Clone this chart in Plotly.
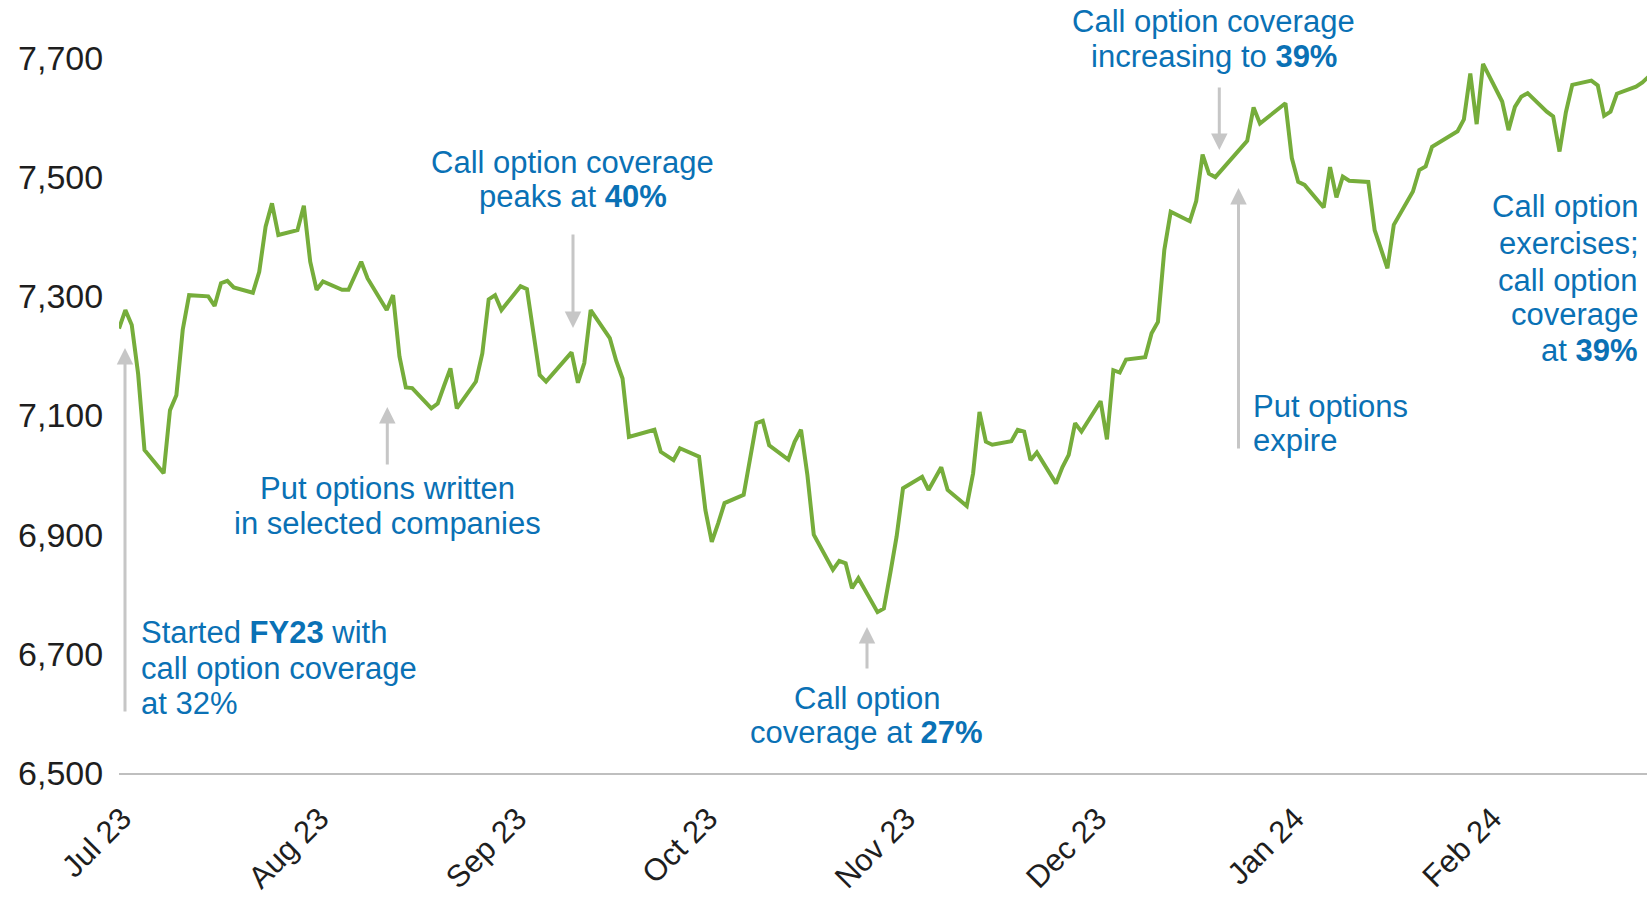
import pandas as pd
import plotly.graph_objects as go
from datetime import timedelta

# ---------------- data (S&P/ASX 200 daily close) ----------------
start_date = "2023-07-03"
end_date = "2024-02-28"
market_holidays = ["2023-12-25", "2023-12-26", "2024-01-01", "2024-01-26"]

jul_23 = [7246, 7277, 7252, 7170, 7042, 7003, 7109, 7134, 7244, 7302, 7300,
          7284, 7322, 7326, 7315, 7306, 7341, 7417, 7456, 7403, 7411]
aug_23 = [7452, 7358, 7311, 7325, 7311, 7311, 7335, 7358, 7330, 7277, 7302,
          7199, 7147, 7146, 7112, 7120, 7150, 7179, 7112, 7157, 7204, 7295, 7302]
sep_23 = [7277, 7317, 7312, 7240, 7168, 7157, 7192, 7206, 7155, 7188, 7277,
          7230, 7192, 7162, 7064, 7067, 7076, 7039, 7032, 7025, 7045]
oct_23 = [7031, 6941, 6888, 6919, 6953, 6967, 7027, 7087, 7091, 7050, 7026,
          7056, 7076, 7000, 6900, 6841, 6856, 6852, 6810, 6827, 6770, 6776]
nov_23 = [6835, 6897, 6978, 6997, 6975, 6994, 7013, 6975, 6948, 7003, 7106,
          7056, 7051, 7057, 7076, 7073, 7025, 7038, 6986, 7013, 7034, 7087]
dec_23 = [7073, 7124, 7060, 7176, 7172, 7194, 7198, 7238, 7257, 7378, 7442,
          7426, 7460, 7538, 7506, 7500, 7561, 7617, 7590]
jan_24 = [7624, 7532, 7492, 7487, 7449, 7517, 7466, 7501, 7494, 7492, 7411,
          7380, 7347, 7420, 7476, 7512, 7518, 7551, 7577, 7597, 7674]
feb_24 = [7589, 7690, 7627, 7579, 7618, 7635, 7641, 7610, 7602, 7543, 7609,
          7655, 7662, 7654, 7603, 7610, 7640, 7652, 7659, 7669]

month_starts = ["2023-07-01", "2023-08-01", "2023-09-01", "2023-10-01",
                "2023-11-01", "2023-12-01", "2024-01-01", "2024-02-01"]
month_labels = ["Jul 23", "Aug 23", "Sep 23", "Oct 23",
                "Nov 23", "Dec 23", "Jan 24", "Feb 24"]
y_ticks = [6500, 6700, 6900, 7100, 7300, 7500, 7700]

# ---------------- build series ----------------
values = jul_23 + aug_23 + sep_23 + oct_23 + nov_23 + dec_23 + jan_24 + feb_24
dates = pd.bdate_range(start_date, end_date, freq="C", holidays=market_holidays)
if len(dates) != len(values):
    raise ValueError(f"{len(dates)} dates vs {len(values)} values")

# ---------------- layout geometry ----------------
W, H = 1647, 902
L, R, T, B = 119, 0, 5, 129
PW, PH = W - L - R, H - T - B
px_per_day = 6.374
px_per_unit = 715 / 1200.0
x0 = pd.Timestamp(start_date)
x1 = x0 + timedelta(days=PW / px_per_day)
y_lo = 6500
y_hi = y_lo + PH / px_per_unit

tick_offset = timedelta(days=2.5)
tickvals = [pd.Timestamp(m) + tick_offset for m in month_starts]

BLUE = "#0A71B5"
GREEN = "#76AD3B"
GREY = "#C6C6C6"
FONT = "Liberation Sans, Arial, sans-serif"

fig = go.Figure()
fig.add_trace(go.Scatter(x=dates, y=values, mode="lines",
                         line=dict(color=GREEN, width=4),
                         hoverinfo="x+y", showlegend=False))


def px2paper(x, y):
    return (x - L) / PW, 1 - (y - T) / PH


text_lines = [
    ("Call option coverage", 1213.5, 21, "center"),
    ("increasing to <b>39%</b>", 1213.5, 56, "center"),
    ("Call option coverage", 572.5, 162, "center"),
    ("peaks at <b>40%</b>", 572.5, 196.7, "center"),
    ("Call option", 1639, 206.7, "right"),
    ("exercises;", 1640, 243.3, "right"),
    ("call option", 1639, 280, "right"),
    ("coverage", 1640, 315, "right"),
    ("at <b>39%</b>", 1639, 350, "right"),
    ("Put options", 1252, 406.7, "left"),
    ("expire", 1252, 440.5, "left"),
    ("Put options written", 387.5, 488.3, "center"),
    ("in selected companies", 387.5, 523.3, "center"),
    ("Started <b>FY23</b> with", 139.5, 632.7, "left"),
    ("call option coverage", 139.5, 668, "left"),
    ("at 32%", 139.5, 703, "left"),
    ("Call option", 866.6, 698, "center"),
    ("coverage at <b>27%</b>", 866.6, 732.7, "center"),
]
annotations = []
for txt, xp, yp, anc in text_lines:
    ax_, ay_ = px2paper(xp, yp)
    annotations.append(dict(text=txt, x=ax_, y=ay_, xref="paper", yref="paper",
                            xanchor=anc, yanchor="middle", showarrow=False,
                            align=anc, borderpad=0,
                            font=dict(family=FONT, size=31, color=BLUE)))

arrows = [  # x, tail y, tip y (pixels)
    (125, 713, 348),
    (387.3, 466, 407),
    (573, 233, 328),
    (867, 670, 627),
    (1219.3, 86, 150),
    (1238.5, 450, 188),
]
for xp, ytail, ytip in arrows:
    tx, ty = px2paper(xp, ytip)
    annotations.append(dict(text="", x=tx, y=ty, xref="paper", yref="paper",
                            showarrow=True, ax=0, ay=ytail - ytip,
                            arrowhead=2, arrowsize=1.1, arrowwidth=3,
                            arrowcolor=GREY, standoff=0))

fig.update_layout(
    width=W, height=H,
    margin=dict(l=L, r=R, t=T, b=B, pad=0),
    paper_bgcolor="white", plot_bgcolor="white",
    annotations=annotations,
    showlegend=False,
    xaxis=dict(type="date", range=[x0, x1], tickvals=tickvals,
               ticktext=month_labels, tickangle=-45,
               tickfont=dict(family=FONT, size=31, color="#1E1E1E"),
               showgrid=False, zeroline=False, showline=True,
               linecolor="#BFBFBF", linewidth=2,
               ticks="outside", ticklen=13, tickcolor="rgba(0,0,0,0)"),
    yaxis=dict(range=[y_lo, y_hi], tickvals=y_ticks, tickformat=",",
               tickfont=dict(family=FONT, size=34, color="#1E1E1E"),
               showgrid=False, zeroline=False, showline=False,
               ticks="outside", ticklen=8, tickcolor="rgba(0,0,0,0)"),
)

fig.write_html(
    "out.html",
    config={"displayModeBar": False},
    post_script="document.body.style.margin='0px';document.body.style.padding='0px';"
                "document.body.style.overflow='hidden';",
)
